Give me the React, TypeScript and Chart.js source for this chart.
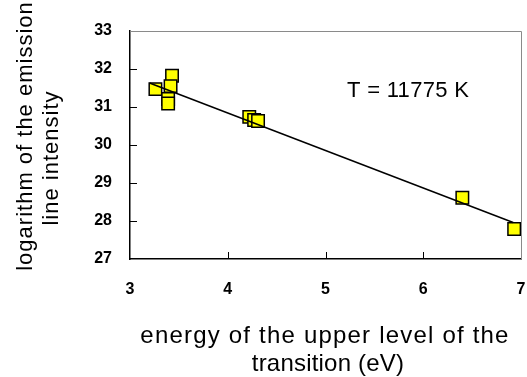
import React, { useEffect, useRef } from 'react';
import { Chart, registerables } from 'chart.js';

Chart.register(...registerables);

// ---- data ----
const energyEV = [3.26, 3.43, 3.415, 3.39, 3.39, 4.22, 4.27, 4.31, 6.40, 6.93];
const logIntensity = [31.47, 31.82, 31.55, 31.21, 31.09, 30.74, 30.66, 30.63, 28.61, 27.79];
const fitEnergy = [3.2, 6.92];
const fitLog = [31.63, 27.96];
const xTickValues = [3, 4, 5, 6, 7];
const yTickValues = [27, 28, 29, 30, 31, 32, 33];
const xTitleLines = ['energy of the upper level of the', 'transition (eV)'];
const yTitleLines = ['logarithm of the emission', 'line intensity'];
const annotationText = 'T = 11775 K';

const FONT = "'Liberation Sans', Arial, Helvetica, sans-serif";

const decoPlugin = {
  id: 'deco',
  beforeDatasetsDraw(chart: any) {
    const { ctx, chartArea: a, scales } = chart;
    ctx.save();
    // top/right frame (gray)
    ctx.strokeStyle = '#8a8a8a';
    ctx.lineWidth = 1;
    ctx.beginPath();
    ctx.moveTo(a.left, a.top + 0.5);
    ctx.lineTo(a.right + 0.5, a.top + 0.5);
    ctx.lineTo(a.right + 0.5, a.bottom);
    ctx.stroke();
    // inward tick marks
    ctx.strokeStyle = '#000';
    ctx.lineWidth = 1;
    ctx.beginPath();
    yTickValues.slice(1, -1).forEach((v) => {
      const y = Math.round(scales.y.getPixelForValue(v)) + 0.5;
      ctx.moveTo(a.left, y);
      ctx.lineTo(a.left + 7, y);
    });
    xTickValues.slice(1, -1).forEach((v) => {
      const x = Math.round(scales.x.getPixelForValue(v)) + 0.5;
      ctx.moveTo(x, a.bottom);
      ctx.lineTo(x, a.bottom - 7);
    });
    ctx.stroke();
    ctx.restore();
  },
  afterDraw(chart: any) {
    const { ctx } = chart;
    ctx.save();
    ctx.fillStyle = '#000';
    // annotation
    ctx.font = `22px ${FONT}`;
    ctx.textAlign = 'left';
    ctx.textBaseline = 'alphabetic';
    (ctx as any).letterSpacing = '0.3px';
    ctx.fillText(annotationText, 347, 97);
    // x title
    ctx.font = `24px ${FONT}`;
    ctx.textAlign = 'center';
    (ctx as any).letterSpacing = '1.2px';
    ctx.fillText(xTitleLines[0], 325, 343);
    (ctx as any).letterSpacing = '0.2px';
    ctx.fillText(xTitleLines[1], 328, 371);
    // y title
    ctx.font = `22px ${FONT}`;
    (ctx as any).letterSpacing = '1px';
    ctx.save();
    ctx.translate(32, 136);
    ctx.rotate(-Math.PI / 2);
    ctx.fillText(yTitleLines[0], 0, 0);
    ctx.restore();
    ctx.save();
    ctx.translate(58, 158);
    ctx.rotate(-Math.PI / 2);
    ctx.fillText(yTitleLines[1], 0, 0);
    ctx.restore();
    ctx.restore();
  },
};

export default function App() {
  const ref = useRef<HTMLCanvasElement | null>(null);

  useEffect(() => {
    const canvas = ref.current;
    if (!canvas) return;
    const chart = new Chart(canvas, {
      type: 'scatter',
      data: {
        datasets: [
          {
            type: 'line',
            data: fitEnergy.map((x, i) => ({ x, y: fitLog[i] })),
            borderColor: '#000',
            borderWidth: 1.5,
            pointRadius: 0,
            fill: false,
            order: 0,
          } as any,
          {
            type: 'scatter',
            data: energyEV.map((x, i) => ({ x, y: logIntensity[i] })),
            pointStyle: 'rect',
            pointRadius: 8.8,
            backgroundColor: '#ffff00',
            borderColor: '#000',
            borderWidth: 1.5,
            order: 1,
          },
        ],
      },
      options: {
        responsive: false,
        animation: false,
        devicePixelRatio: 1,
        layout: { autoPadding: false, padding: { top: 31, right: 6, left: 0, bottom: 0 } },
        plugins: { legend: { display: false }, tooltip: { enabled: false } },
        scales: {
          x: {
            type: 'linear',
            min: 3,
            max: 7,
            afterBuildTicks: (s: any) => {
              s.ticks = xTickValues.map((v) => ({ value: v }));
            },
            afterFit: (s: any) => {
              s.height = 118;
              s.paddingLeft = 0;
              s.paddingRight = 0;
            },
            grid: { display: false, drawTicks: false },
            border: { display: true, color: '#000', width: 1.5 },
            ticks: {
              color: '#000',
              padding: 21,
              maxRotation: 0,
              font: { family: FONT, size: 16, weight: 'bold' },
            },
          },
          y: {
            type: 'linear',
            min: 27,
            max: 33,
            afterBuildTicks: (s: any) => {
              s.ticks = yTickValues.map((v) => ({ value: v }));
            },
            afterFit: (s: any) => {
              s.width = 130;
              s.paddingTop = 0;
              s.paddingBottom = 0;
            },
            grid: { display: false, drawTicks: false },
            border: { display: true, color: '#000', width: 1.5 },
            ticks: {
              color: '#000',
              padding: 18,
              font: { family: FONT, size: 16, weight: 'bold' },
            },
          },
        },
      },
      plugins: [decoPlugin],
    } as any);
    return () => chart.destroy();
  }, []);

  return (
    <div style={{ position: 'absolute', left: 0, top: 0, width: 527, height: 377, background: '#fff' }}>
      <canvas ref={ref} width={527} height={377} style={{ width: 527, height: 377, display: 'block' }} />
    </div>
  );
}
